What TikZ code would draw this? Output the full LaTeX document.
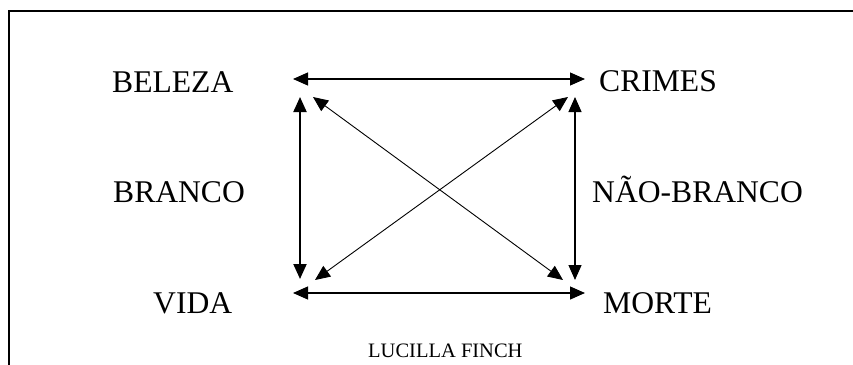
\documentclass[tikz,border=0pt]{standalone}
\usepackage{fontspec}
\setmainfont{Liberation Serif}
\usetikzlibrary{arrows.meta}
\tikzset{
  lbl/.style={anchor=base west,inner sep=0pt,font=\fontsize{31.6}{36}\selectfont},
  credit/.style={anchor=base west,inner sep=0pt,font=\fontsize{20.5}{24}\selectfont},
  link/.style={{Triangle[length=15pt,width=13pt]}-{Triangle[length=15pt,width=13pt]},line width=1.2pt},
}
\begin{document}
\begin{tikzpicture}[x=1pt,y=-1pt]
\useasboundingbox (0,0) rectangle (853,364);
\draw[line width=2pt] (8.5,380) -- (8.5,11) -- (870,11);

\node[lbl] (beleza) at (112,92) {BELEZA};
\node[lbl] (crimes) at (599,91) {CRIMES};
\node[lbl] (branco) at (113,202) {BRANCO};
\node[lbl] (naobranco) at (592,202) {NÃO-BRANCO};
\node[lbl] (vida) at (153,313) {VIDA};
\node[lbl] (morte) at (603,313) {MORTE};
\node[credit] (autor) at (368,357) {LUCILLA FINCH};

\coordinate (tlh) at (293,79);
\coordinate (trh) at (585,79);
\coordinate (blh) at (293,293);
\coordinate (brh) at (585,293);
\coordinate (tlv) at (300,97);
\coordinate (blv) at (300,279);
\coordinate (trv) at (575,97);
\coordinate (brv) at (575,280);
\coordinate (tld) at (313,97);
\coordinate (brd) at (563,280);
\coordinate (bld) at (315,280);
\coordinate (trd) at (568,97);

\draw[link] (tlh) -- (trh);
\draw[link] (blh) -- (brh);
\draw[link,line width=2pt] (tlv) -- (blv);
\draw[link] (trv) -- (brv);
\draw[link,line width=0.9pt] (tld) -- (brd);
\draw[link,line width=0.9pt] (bld) -- (trd);
\end{tikzpicture}
\end{document}
